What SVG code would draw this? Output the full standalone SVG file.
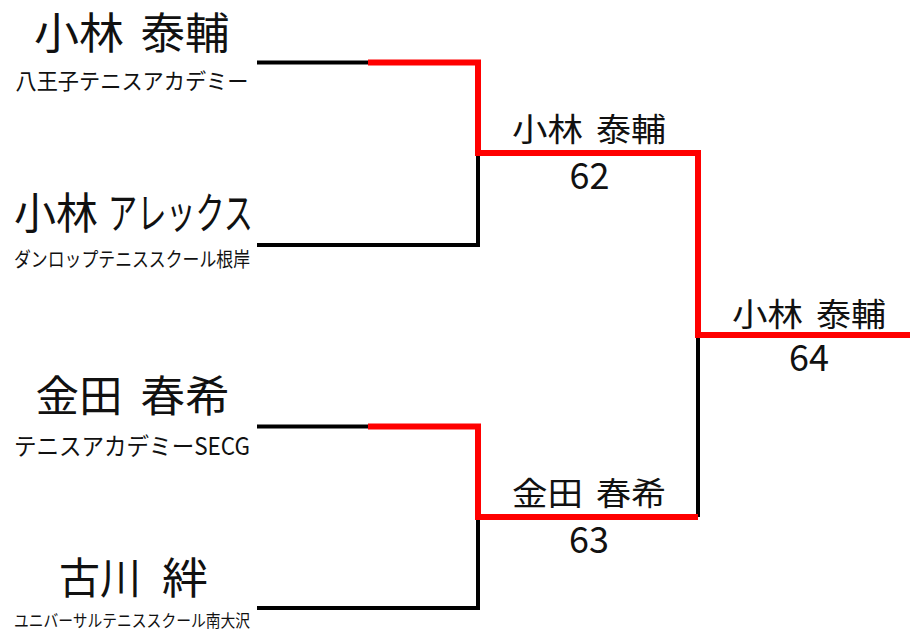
<svg xmlns="http://www.w3.org/2000/svg" width="910" height="631" viewBox="0 0 910 631">
<style>
text{font-family:"Noto Sans CJK JP","Noto Sans",sans-serif;fill:#111}
.nm{font-size:43px}
.mid{font-size:32px}
.sc{font-size:36px;text-anchor:middle}
.sub{text-anchor:middle}
.blk{fill:none;stroke:#000;stroke-width:4}
.red{fill:none;stroke:#f00;stroke-width:6;stroke-linejoin:miter}
</style>
<rect width="910" height="631" fill="#fff"/>
<g id="connectors">
<path class="blk" d="M257 62.5H370"/>
<path class="blk" d="M478 153V245H257"/>
<path class="blk" d="M698 335V517"/>
<path class="blk" d="M257 426.5H370"/>
<path class="blk" d="M478 517V608H257"/>
<path class="red" d="M368 62.5H478V153H698V335H910"/>
<path class="red" d="M368 426.5H478V517H698"/>
</g>
<g id="p1">
<text class="nm" y="49"><tspan x="34" textLength="90" lengthAdjust="spacingAndGlyphs">小林</tspan></text>
<text class="nm" y="49"><tspan x="140.5" textLength="89" lengthAdjust="spacingAndGlyphs">泰輔</tspan></text>
<text class="sub" x="132" y="89" style="font-size:22px" textLength="233" lengthAdjust="spacingAndGlyphs">八王子テニスアカデミー</text>
</g>
<g id="p2">
<text class="nm" y="229"><tspan x="14" textLength="84" lengthAdjust="spacingAndGlyphs">小林</tspan></text>
<text class="nm" y="229"><tspan x="108" textLength="145" lengthAdjust="spacingAndGlyphs">アレックス</tspan></text>
<text class="sub" x="132" y="267" style="font-size:20px" textLength="236" lengthAdjust="spacingAndGlyphs">ダンロップテニススクール根岸</text>
</g>
<g id="p3">
<text class="nm" y="412"><tspan x="35.5" textLength="87" lengthAdjust="spacingAndGlyphs">金田</tspan></text>
<text class="nm" y="412"><tspan x="140.5" textLength="89" lengthAdjust="spacingAndGlyphs">春希</tspan></text>
<text class="sub" x="132" y="455" style="font-size:24px" textLength="236" lengthAdjust="spacingAndGlyphs">テニスアカデミーSECG</text>
</g>
<g id="p4">
<text class="nm" y="594"><tspan x="59" textLength="82" lengthAdjust="spacingAndGlyphs">古川</tspan></text>
<text class="nm" y="594"><tspan x="162" textLength="46" lengthAdjust="spacingAndGlyphs">絆</tspan></text>
<text class="sub" x="132" y="627" style="font-size:17px" textLength="236" lengthAdjust="spacingAndGlyphs">ユニバーサルテニススクール南大沢</text>
</g>
<g id="w1">
<text class="mid" y="141"><tspan x="512" textLength="71" lengthAdjust="spacingAndGlyphs">小林</tspan></text>
<text class="mid" y="141"><tspan x="596" textLength="70" lengthAdjust="spacingAndGlyphs">泰輔</tspan></text>
<text class="sc" x="589.5" y="188.5">62</text>
</g>
<g id="w2">
<text class="mid" y="505"><tspan x="512" textLength="71" lengthAdjust="spacingAndGlyphs">金田</tspan></text>
<text class="mid" y="505"><tspan x="596" textLength="70" lengthAdjust="spacingAndGlyphs">春希</tspan></text>
<text class="sc" x="589" y="553">63</text>
</g>
<g id="champ">
<text class="mid" y="326"><tspan x="732" textLength="71" lengthAdjust="spacingAndGlyphs">小林</tspan></text>
<text class="mid" y="326"><tspan x="816" textLength="70" lengthAdjust="spacingAndGlyphs">泰輔</tspan></text>
<text class="sc" x="809" y="371">64</text>
</g>
</svg>
